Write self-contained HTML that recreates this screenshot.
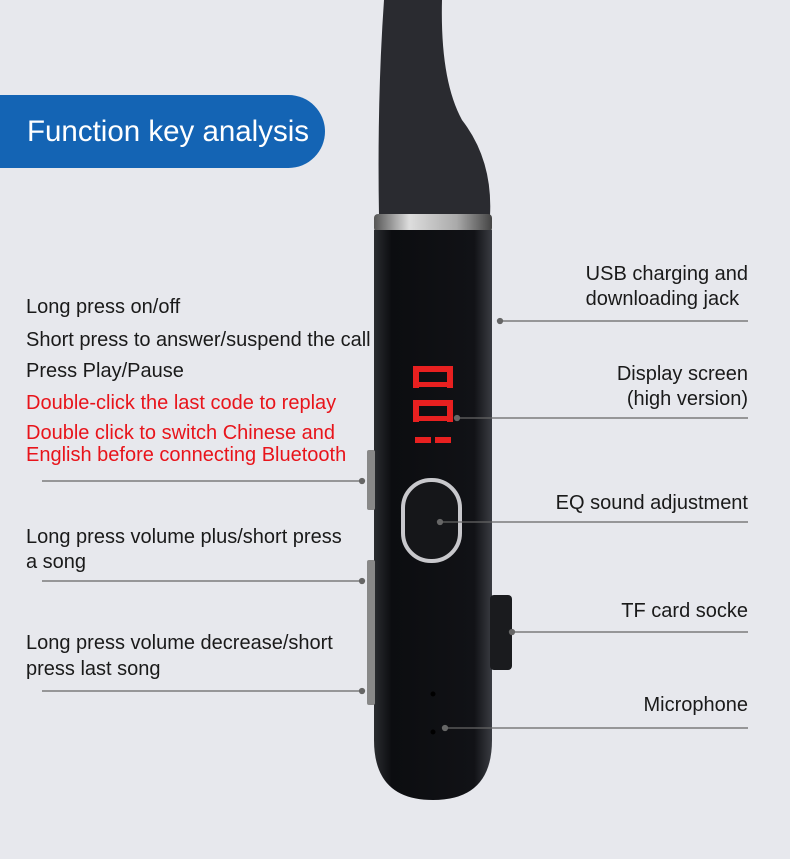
<!DOCTYPE html>
<html><head><meta charset="utf-8"><style>
body{margin:0;width:790px;height:859px;overflow:hidden;background:#e7e8ed;position:relative;font-family:"Liberation Sans",sans-serif;}
.t{position:absolute;font-size:20px;color:#1a1a1a;white-space:nowrap;line-height:22px}
.r{text-align:right;right:42px}
.red{color:#e8141b}
</style></head><body>
<svg width="790" height="859" style="position:absolute;left:0;top:0">
<defs>
<linearGradient id="b" x1="0" x2="1"><stop offset="0" stop-color="#2a2c30"/><stop offset="0.15" stop-color="#0c0d10"/><stop offset="0.85" stop-color="#111216"/><stop offset="1" stop-color="#3a3c42"/></linearGradient>
<linearGradient id="m" x1="0" x2="1"><stop offset="0" stop-color="#555"/><stop offset="0.3" stop-color="#ddd"/><stop offset="0.7" stop-color="#aaa"/><stop offset="1" stop-color="#444"/></linearGradient>
</defs>
<path d="M384 0 Q377 100 379 216 L490 216 Q493 160 462 120 Q440 80 442 0 Z" fill="#2a2b30"/>
<rect x="374" y="214" width="118" height="18" rx="4" fill="url(#m)"/>
<path d="M374 230 H492 V740 Q492 800 433 800 Q374 800 374 740 Z" fill="url(#b)"/>
<rect x="490" y="595" width="22" height="75" rx="4" fill="#1a1b1e"/>
<rect x="367" y="450" width="8" height="60" rx="2" fill="#888"/>
<rect x="367" y="560" width="8" height="145" rx="2" fill="#888"/>
<g fill="#e82020">
<rect x="413" y="366" width="40" height="6"/><rect x="413" y="366" width="6" height="22"/><rect x="447" y="366" width="6" height="22"/><rect x="413" y="382" width="40" height="5"/>
<rect x="413" y="400" width="40" height="6"/><rect x="413" y="400" width="6" height="22"/><rect x="447" y="400" width="6" height="22"/><rect x="413" y="416" width="40" height="5"/>
<rect x="415" y="437" width="16" height="6"/><rect x="435" y="437" width="16" height="6"/>
</g>
<rect x="403" y="480" width="57" height="81" rx="28" fill="#151619" stroke="#c8c8cc" stroke-width="4"/>
<circle cx="433" cy="694" r="2.5" fill="#000"/><circle cx="433" cy="732" r="2.5" fill="#000"/>
<g stroke="#666" stroke-width="1.3" fill="#666">
<line x1="42" y1="481" x2="360" y2="481"/><circle cx="362" cy="481" r="2.5"/>
<line x1="42" y1="581" x2="360" y2="581"/><circle cx="362" cy="581" r="2.5"/>
<line x1="42" y1="691" x2="360" y2="691"/><circle cx="362" cy="691" r="2.5"/>
<line x1="500" y1="321" x2="748" y2="321"/><circle cx="500" cy="321" r="2.5"/>
<line x1="457" y1="418" x2="748" y2="418"/><circle cx="457" cy="418" r="2.5"/>
<line x1="440" y1="522" x2="748" y2="522"/><circle cx="440" cy="522" r="2.5"/>
<line x1="512" y1="632" x2="748" y2="632"/><circle cx="512" cy="632" r="2.5"/>
<line x1="445" y1="728" x2="748" y2="728"/><circle cx="445" cy="728" r="2.5"/>
</g>
</svg>
<div style="position:absolute;left:0;top:95px;width:325px;height:73px;background:#1464b4;border-radius:0 37px 37px 0;color:#fff;font-size:29.5px;line-height:73px;padding-left:27px;box-sizing:border-box">Function key analysis</div>
<div class="t" style="left:26px;top:296px">Long press on/off</div>
<div class="t" style="left:26px;top:329px">Short press to answer/suspend the call</div>
<div class="t" style="left:26px;top:360px">Press Play/Pause</div>
<div class="t red" style="left:26px;top:392px">Double-click the last code to replay</div>
<div class="t red" style="left:26px;top:422px">Double click to switch Chinese and<br>English before connecting Bluetooth</div>
<div class="t" style="left:26px;top:525px;line-height:25px">Long press volume plus/short press<br>a song</div>
<div class="t" style="left:26px;top:630px;line-height:26px">Long press volume decrease/short<br>press last song</div>
<div class="t" style="right:42px;top:262px;line-height:25px;text-align:left">USB charging and<br>downloading jack</div>
<div class="t r" style="top:362px;line-height:25px">Display screen<br>(high version)</div>
<div class="t r" style="top:492px">EQ sound adjustment</div>
<div class="t r" style="top:600px">TF card socke</div>
<div class="t r" style="top:694px">Microphone</div>
</body></html>
